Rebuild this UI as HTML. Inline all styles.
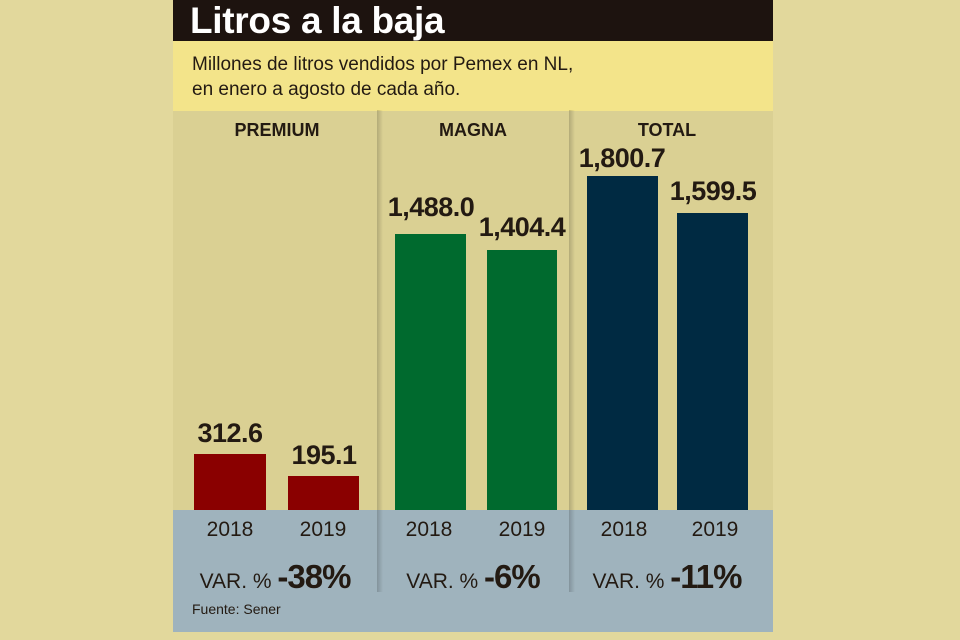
<!DOCTYPE html>
<html><head><meta charset="utf-8"><style>
body{margin:0;width:960px;height:640px;background:#e2d89c;position:relative;overflow:hidden;font-family:"Liberation Sans",sans-serif;color:#231a12}
div,span{position:absolute}
.bar{bottom:130px}
.v{font-weight:bold;font-size:27px;text-align:center;width:120px;letter-spacing:-0.5px}
.h{font-weight:bold;font-size:18px;text-align:center;width:190px;top:120px}
.y{font-size:21px;top:518px;width:80px;text-align:center}
.var{top:558px;font-size:21px;width:190px;text-align:center;white-space:nowrap}
.var b{font-size:33px;letter-spacing:-1px}
.dv{top:110px;height:482px;width:6px;background:linear-gradient(90deg,rgba(0,0,0,0.18),rgba(0,0,0,0))}
</style></head><body>
<div style="left:173px;top:0;width:600px;height:632px;background:#dad093"></div>
<div style="left:173px;top:0;width:600px;height:41px;background:#1d130f"></div>
<div style="left:190px;top:0px;color:#fff;font-weight:bold;font-size:37px;letter-spacing:-0.3px">Litros a la baja</div>
<div style="left:173px;top:41px;width:600px;height:70px;background:#f3e48a"></div>
<div style="left:192px;top:52px;font-size:19px;line-height:25px">Millones de litros vendidos por Pemex en NL,<br>en enero a agosto de cada año.</div>
<div style="left:173px;top:510px;width:600px;height:122px;background:#9fb3bd"></div>
<div class="dv" style="left:377px"></div>
<div class="dv" style="left:569px"></div>
<div class="h" style="left:182px">PREMIUM</div>
<div class="h" style="left:378px">MAGNA</div>
<div class="h" style="left:572px">TOTAL</div>
<div class="bar" style="left:194px;top:454px;width:72px;height:56px;background:#8a0000"></div>
<div class="bar" style="left:288px;top:476px;width:71px;height:34px;background:#8a0000"></div>
<div class="bar" style="left:395px;top:234px;width:71px;height:276px;background:#006a2e"></div>
<div class="bar" style="left:487px;top:250px;width:70px;height:260px;background:#006a2e"></div>
<div class="bar" style="left:587px;top:176px;width:71px;height:334px;background:#002a42"></div>
<div class="bar" style="left:677px;top:213px;width:71px;height:297px;background:#002a42"></div>
<div class="v" style="left:170px;top:418px">312.6</div>
<div class="v" style="left:264px;top:440px">195.1</div>
<div class="v" style="left:371px;top:192px">1,488.0</div>
<div class="v" style="left:462px;top:212px">1,404.4</div>
<div class="v" style="left:562px;top:143px">1,800.7</div>
<div class="v" style="left:653px;top:176px">1,599.5</div>
<div class="y" style="left:190px">2018</div>
<div class="y" style="left:283px">2019</div>
<div class="y" style="left:389px">2018</div>
<div class="y" style="left:482px">2019</div>
<div class="y" style="left:584px">2018</div>
<div class="y" style="left:675px">2019</div>
<div class="var" style="left:180px">VAR. % <b>-38%</b></div>
<div class="var" style="left:378px">VAR. % <b>-6%</b></div>
<div class="var" style="left:572px">VAR. % <b>-11%</b></div>
<div style="left:192px;top:601px;font-size:14px">Fuente: Sener</div>
</body></html>
